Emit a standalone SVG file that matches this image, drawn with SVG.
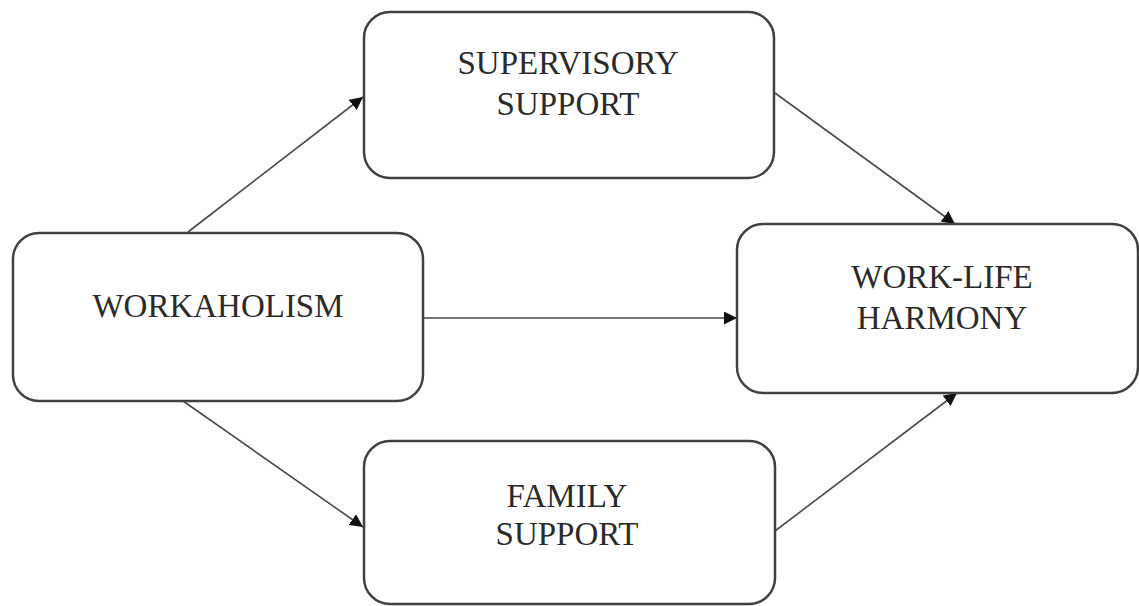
<svg xmlns="http://www.w3.org/2000/svg" width="1139" height="606" viewBox="0 0 1139 606">
<style>
.box{fill:#fff;stroke:#404040;stroke-width:2.5}
.lbl{font-family:"Liberation Serif","Times New Roman",serif;font-size:33px;fill:#2a2a2a;text-anchor:middle}
.conn{stroke:#4a4a4a;stroke-width:1.6;fill:none;marker-end:url(#ah)}
</style>
<defs>
<marker id="ah" viewBox="0 0 10 10" refX="10" refY="5" markerWidth="13" markerHeight="13" markerUnits="userSpaceOnUse" orient="auto">
<path d="M0,0 L10,5 L0,10 z" fill="#111"/>
</marker>
</defs>
<rect width="1139" height="606" fill="#fff"/>
<g id="connectors">
<line class="conn" x1="188" y1="232" x2="363" y2="97"/>
<line class="conn" x1="775" y1="93" x2="955" y2="224"/>
<line class="conn" x1="423" y1="318" x2="737" y2="318"/>
<line class="conn" x1="183" y1="401" x2="363" y2="527"/>
<line class="conn" x1="775" y1="531" x2="957" y2="393"/>
</g>
<g id="supervisory">
<rect class="box" x="364" y="12" width="410" height="166" rx="26"/>
<text class="lbl" x="568" y="74">SUPERVISORY</text>
<text class="lbl" x="568" y="115">SUPPORT</text>
</g>
<g id="workaholism">
<rect class="box" x="13" y="233" width="410" height="168" rx="26"/>
<text class="lbl" x="218" y="317" font-size="34">WORKAHOLISM</text>
</g>
<g id="worklife">
<rect class="box" x="737" y="224" width="401" height="169" rx="26"/>
<text class="lbl" x="942" y="288">WORK-LIFE</text>
<text class="lbl" x="942" y="329">HARMONY</text>
</g>
<g id="family">
<rect class="box" x="364" y="441" width="411" height="163" rx="26"/>
<text class="lbl" x="567" y="507">FAMILY</text>
<text class="lbl" x="567" y="545">SUPPORT</text>
</g>
</svg>
